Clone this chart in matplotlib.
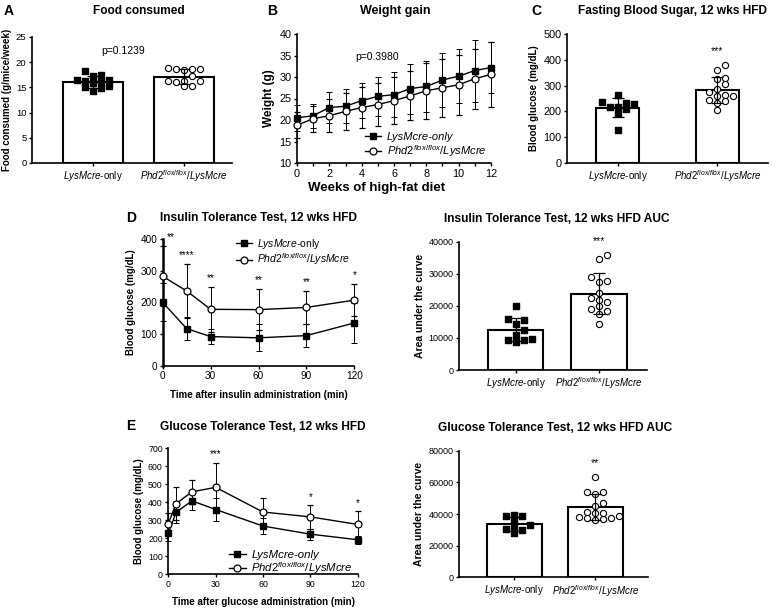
import numpy as np
import matplotlib
matplotlib.use("Agg")
import matplotlib.pyplot as plt

plt.rcParams['font.family'] = ['Liberation Sans', 'DejaVu Sans']
plt.rcParams['mathtext.fontset'] = 'custom'
plt.rcParams['mathtext.rm'] = 'Liberation Sans'
plt.rcParams['mathtext.it'] = 'Liberation Sans:italic'
plt.rcParams['mathtext.bf'] = 'Liberation Sans:bold'

# ---- data ----
groups = [r"$\mathit{LysMcre}$-only", r"$\mathit{Phd2}^{\mathit{flox/flox}}\mathit{/LysMcre}$"]

food_ctrl = [16.3, 16.4, 14.3, 18.2, 15.2, 17.3, 15.0, 16.1, 15.9, 17.5, 16.5, 14.9]
food_ko = [18.7, 18.8, 18.7, 18.5, 18.7, 15.3, 16.3, 16.2, 16.3, 15.2, 16.0, 17.2]

weeks = list(range(13))
weight_ctrl = [20.5, 21.0, 22.9, 23.2, 24.5, 25.5, 25.9, 27.3, 27.8, 29.3, 30.2, 31.5, 32.2]
weight_ctrl_sd = [3.0, 2.8, 3.5, 4.0, 4.0, 4.5, 5.2, 5.8, 6.0, 6.2, 6.3, 7.2, 6.0]
weight_ko = [18.8, 20.3, 21.0, 22.0, 22.9, 23.6, 24.5, 25.6, 26.8, 27.5, 28.2, 29.6, 30.6]
weight_ko_sd = [3.0, 3.0, 3.8, 4.3, 4.8, 5.0, 5.4, 5.7, 6.5, 6.8, 7.0, 7.0, 7.6]

fbs_ctrl = [218, 232, 262, 238, 228, 195, 210, 218, 128]
fbs_ko = [380, 360, 330, 325, 305, 285, 275, 265, 260, 258, 245, 240, 232, 205]

itt_time = [0, 15, 30, 60, 90, 120]
itt_ctrl = [200, 117, 92, 88, 95, 135]
itt_ctrl_sd = [60, 37, 24, 43, 37, 63]
itt_ko = [282, 236, 178, 177, 184, 207]
itt_ko_sd = [95, 84, 72, 65, 52, 50]
itt_stars = ['**', '****', '**', '**', '**', '*']

itt_auc_ctrl = [19800, 15800, 15600, 14200, 12500, 11000, 9800, 9200, 8600, 9500]
itt_auc_ko = [35700, 34700, 28900, 27800, 27400, 24000, 22300, 21900, 21300, 19900,
              19100, 18400, 17500, 14400]

gtt_time = [0, 5, 15, 30, 60, 90, 120]
gtt_ctrl = [228, 345, 408, 360, 268, 223, 192]
gtt_ctrl_sd = [45, 60, 48, 62, 46, 30, 22]
gtt_ko = [282, 393, 458, 483, 346, 319, 277]
gtt_ko_sd = [58, 94, 67, 138, 80, 67, 75]
gtt_stars = ['', '', '', '***', '', '*', '*']

gtt_auc_ctrl = [39600, 38800, 38800, 32800, 35500, 32000, 28000, 29600, 30300]
gtt_auc_ko = [63600, 54100, 52400, 54100, 47200, 45100, 40400, 36800, 38700, 40800,
              37700, 37700, 36200, 41500, 37900]

W, H = 781, 610
fig = plt.figure(figsize=(W / 100, H / 100), dpi=100)


def px_axes(x0, y0, x1, y1):
    return fig.add_axes([x0 / W, 1 - y1 / H, (x1 - x0) / W, (y1 - y0) / H])


def fig_text(x, y, s, **kw):
    fig.text(x / W, 1 - y / H, s, ha='center', va='center', **kw)


def style(ax, tsize, ylw=1.2):
    for side in ('top', 'right'):
        ax.spines[side].set_visible(False)
    ax.spines['left'].set_linewidth(ylw)
    ax.spines['bottom'].set_linewidth(1.2)
    ax.tick_params(labelsize=tsize, length=2.5, width=1, pad=1.5)


def swarm(ax, x0, values, sep_x=8.0, sep_y=5.5):
    # simple beeswarm in pixel space so dots spread sideways like Prism
    pts = ax.transData.transform(np.column_stack([np.full(len(values), x0), values]))
    order = np.argsort(pts[:, 1])
    placed = []
    out = np.zeros(len(values))
    steps = [0.0]
    for k in range(1, 40):
        steps += [k * sep_x * 0.5, -k * sep_x * 0.5]
    for i in order:
        y = pts[i, 1]
        for dx in steps:
            x = pts[i, 0] + dx
            if all(abs(x - px) >= sep_x or abs(y - py) >= sep_y for px, py in placed):
                break
        placed.append((x, y))
        out[i] = x
    xy = ax.transData.inverted().transform(np.column_stack([out, pts[:, 1]]))
    return xy[:, 0]


def dot_bar(ax, ctrl, ko, width, xlim, ylim, yticks, tsize, star=None):
    ax.set_xlim(*xlim)
    ax.set_ylim(*ylim)
    for i, vals in enumerate([ctrl, ko]):
        vals = np.array(vals, dtype=float)
        m = vals.mean()
        sd = vals.std(ddof=1)
        ax.bar(i, m, width, color='white', edgecolor='black', lw=1.5, zorder=1)
        xs = swarm(ax, i, vals)
        if i == 0:
            ax.scatter(xs, vals, marker='s', s=15, color='black', zorder=3, clip_on=False)
        else:
            ax.scatter(xs, vals, marker='o', s=20, facecolor='white', edgecolor='black',
                       lw=0.8, zorder=3, clip_on=False)
        ax.errorbar(i, m, yerr=sd, color='black', lw=0.9, capsize=4, capthick=0.9, zorder=4)
    if star:
        top = max(ko)
        ax.text(1, top + 0.11 * (ylim[1] - ylim[0]), star, ha='center', va='center',
                fontsize=7.5)
    ax.set_yticks(yticks)
    style(ax, tsize)
    ax.set_xticks([0, 1])
    ax.set_xticklabels(groups)
    ax.tick_params(axis='x', labelsize=7)


def curve(ax, t, ctrl, ctrl_sd, ko, ko_sd):
    ax.errorbar(t, ctrl, yerr=ctrl_sd, color='black', lw=1, elinewidth=0.7,
                capsize=2.2, capthick=0.7, marker='s', ms=4.2, mfc='black', mec='black',
                zorder=3, clip_on=False)
    ax.errorbar(t, ko, yerr=ko_sd, color='black', lw=1, elinewidth=0.7,
                capsize=2.2, capthick=0.7, marker='o', ms=5, mfc='white', mec='black',
                mew=0.9, zorder=4, clip_on=False)


handles = [plt.Line2D([], [], color='black', lw=1, marker='s', ms=4.2),
           plt.Line2D([], [], color='black', lw=1, marker='o', ms=5, mfc='white', mew=0.9)]
TITLE = dict(fontsize=8.6, fontweight='bold')
LABEL = dict(fontsize=7, fontweight='bold')

# ---- A: food consumed ----
axA = px_axes(32, 37, 232, 163)
dot_bar(axA, food_ctrl, food_ko, 0.66, (-0.67, 1.53), (0, 25), [0, 5, 10, 15, 20, 25], 6.8)
axA.text(0.33, 22.2, 'p=0.1239', ha='center', va='center', fontsize=7.5)
axA.set_ylabel('Food consumed (g/mice/week)', labelpad=3, **LABEL)
fig_text(9, 11, 'A', fontsize=10, fontweight='bold')
fig_text(139, 11, 'Food consumed', **TITLE)

# ---- B: weight gain ----
axB = px_axes(297, 34, 491, 163)
curve(axB, weeks, weight_ctrl, weight_ctrl_sd, weight_ko, weight_ko_sd)
axB.set_xlim(0, 12)
axB.set_ylim(10, 40)
axB.set_xticks(range(0, 13, 2))
axB.set_xticks(range(13), minor=True)
axB.set_yticks(range(10, 41, 5))
style(axB, 7.8)
axB.tick_params(which='minor', length=2.5, width=1)
axB.text(4.95, 34.6, 'p=0.3980', ha='center', va='center', fontsize=7.5)
axB.set_ylabel('Weight (g)', fontsize=8.5, fontweight='bold', labelpad=3)
axB.set_xlabel('Weeks of high-fat diet', fontsize=9.5, fontweight='bold', labelpad=3)
axB.xaxis.set_label_coords(0.41, -0.15)
axB.legend(handles, ['LysMcre-only', groups[1]], loc='lower right',
           bbox_to_anchor=(1.0, 0.0), frameon=False,
           prop={'size': 8, 'style': 'italic'}, handlelength=1.5,
           handletextpad=0.5, labelspacing=0.1, borderaxespad=0)
fig_text(272, 11, 'B', fontsize=10, fontweight='bold')
fig_text(395, 11, 'Weight gain', fontsize=9, fontweight='bold')

# ---- C: fasting blood sugar ----
axC = px_axes(567, 34, 768, 163)
dot_bar(axC, fbs_ctrl, fbs_ko, 0.43, (-0.51, 1.51), (0, 500), [0, 100, 200, 300, 400, 500],
        7.8, star='***')
axC.set_ylabel('Blood glucose (mg/dL)', labelpad=3, **LABEL)
fig_text(536, 11, 'C', fontsize=10, fontweight='bold')
fig_text(673, 11, 'Fasting Blood Sugar, 12 wks HFD', **TITLE)

# ---- D: insulin tolerance test ----
axD = px_axes(162.7, 239, 354.3, 365.7)
curve(axD, itt_time, itt_ctrl, itt_ctrl_sd, itt_ko, itt_ko_sd)
axD.set_xlim(0, 120)
axD.set_ylim(0, 400)
axD.set_xticks([0, 30, 60, 90, 120])
axD.set_yticks([0, 100, 200, 300, 400])
style(axD, 7.2, ylw=1.8)
for t, k, sd, s in zip(itt_time, itt_ko, itt_ko_sd, itt_stars):
    axD.text(max(t, 5), k + sd + 28, s, ha='center', va='center', fontsize=7)
axD.set_ylabel('Blood glucose (mg/dL)', labelpad=3, **LABEL)
axD.set_xlabel('Time after insulin administration (min)', labelpad=6, **LABEL)
axD.legend(handles, groups, loc='upper right', bbox_to_anchor=(1.0, 1.05), frameon=False,
           fontsize=7.5, handlelength=1.5, handletextpad=0.5, labelspacing=0.05,
           borderaxespad=0)
fig_text(131, 218, 'D', fontsize=10, fontweight='bold')
fig_text(258, 218, 'Insulin Tolerance Test, 12 wks HFD', **TITLE)

# ---- D right: ITT AUC ----
axD2 = px_axes(459.3, 241.7, 646.7, 370)
dot_bar(axD2, itt_auc_ctrl, itt_auc_ko, 0.66, (-0.673, 1.571), (0, 40000),
        [0, 10000, 20000, 30000, 40000], 6.5, star='***')
axD2.set_ylabel('Area under the curve', fontsize=7.5, fontweight='bold', labelpad=3)
fig_text(557, 219, 'Insulin Tolerance Test, 12 wks HFD AUC', **TITLE)

# ---- E: glucose tolerance test ----
axE = px_axes(168.3, 448.3, 357.7, 574.3)
curve(axE, gtt_time, gtt_ctrl, gtt_ctrl_sd, gtt_ko, gtt_ko_sd)
axE.set_xlim(0, 120)
axE.set_ylim(0, 700)
axE.set_xticks([0, 30, 60, 90, 120])
axE.set_yticks(range(0, 701, 100))
style(axE, 6.3)
for t, k, sd, s in zip(gtt_time, gtt_ko, gtt_ko_sd, gtt_stars):
    if s:
        axE.text(t, k + sd + 45, s, ha='center', va='center', fontsize=7)
axE.set_ylabel('Blood glucose (mg/dL)', labelpad=3, **LABEL)
axE.set_xlabel('Time after glucose administration (min)', labelpad=6, **LABEL)
axE.legend(handles, ['LysMcre-only', groups[1]], loc='lower right',
           bbox_to_anchor=(1.0, -0.05), frameon=False,
           prop={'size': 8.2, 'style': 'italic'}, handlelength=1.5,
           handletextpad=0.5, labelspacing=0.05, borderaxespad=0)
fig_text(131, 426, 'E', fontsize=10, fontweight='bold')
fig_text(263, 427, 'Glucose Tolerance Test, 12 wks HFD', **TITLE)

# ---- E right: GTT AUC ----
axE2 = px_axes(459.3, 450.7, 648, 577.3)
dot_bar(axE2, gtt_auc_ctrl, gtt_auc_ko, 0.68, (-0.68, 1.65), (0, 80000),
        [0, 20000, 40000, 60000, 80000], 6.5, star='**')
axE2.set_ylabel('Area under the curve', fontsize=7.5, fontweight='bold', labelpad=3)
fig_text(555, 428, 'Glucose Tolerance Test, 12 wks HFD AUC', **TITLE)

fig.savefig('out.png', dpi=100)
